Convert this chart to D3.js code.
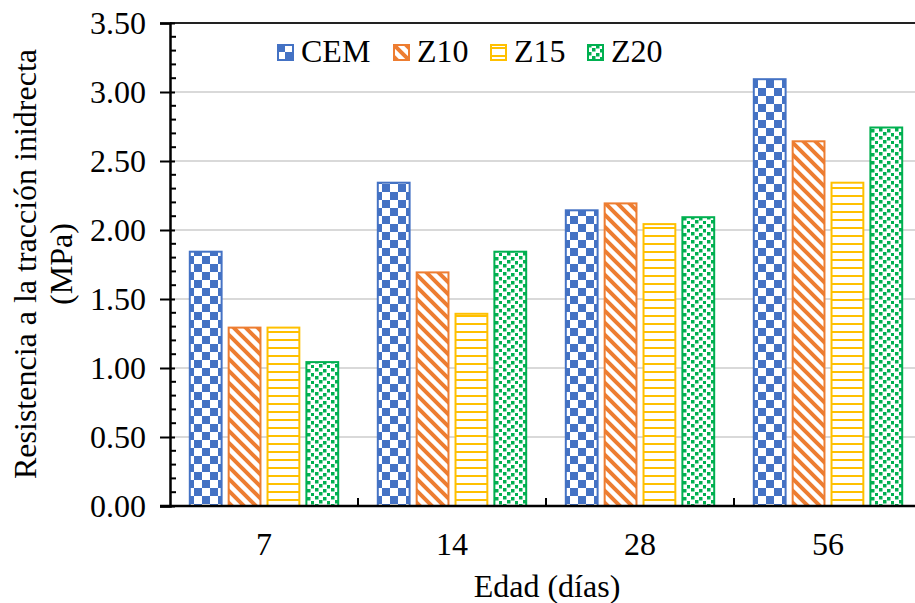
<!DOCTYPE html>
<html>
<head>
<meta charset="utf-8">
<script src="https://cdn.jsdelivr.net/npm/d3@7/dist/d3.min.js"></script>
<style>
  html, body { margin: 0; padding: 0; background: #fff; }
  svg { display: block; }
  text { font-family: "Liberation Serif", "Times New Roman", serif; fill: #000; }
</style>
</head>
<body>
<svg id="chart" width="915" height="603"></svg>
<script>
// Indirect tensile strength by age for each mix
const ages = ["7", "14", "28", "56"];
const seriesNames = ["CEM", "Z10", "Z15", "Z20"];
const cem = [1.85, 2.35, 2.15, 3.10];
const z10 = [1.30, 1.70, 2.20, 2.65];
const z15 = [1.30, 1.40, 2.05, 2.35];
const z20 = [1.05, 1.85, 2.10, 2.75];
const yTicks = [0, 0.5, 1.0, 1.5, 2.0, 2.5, 3.0, 3.5];

const seriesValues = [cem, z10, z15, z20];
const colors = ["#4472C4", "#ED7D31", "#FFC000", "#00B050"];

const svg = d3.select("#chart");
const margin = { left: 170, right: -7, top: 23, bottom: 97 };
const W = 915, H = 603;
const plotLeft = margin.left, plotRight = W - margin.right;
const plotTop = margin.top, plotBottom = H - margin.bottom;

const x0 = d3.scaleBand().domain(ages).range([plotLeft, plotRight]).paddingInner(0).paddingOuter(0);
const bw = x0.bandwidth();
const x1 = d3.scaleBand().domain(seriesNames).range([bw * 0.1, bw * 0.9]).paddingInner(0.13);
const y = d3.scaleLinear().domain([0, 3.5]).range([plotBottom, plotTop]);

// Fill patterns
const defs = svg.append("defs");
// checkerboard
const pCheck = defs.append("pattern").attr("id", "p-cem").attr("patternUnits", "userSpaceOnUse")
  .attr("width", 16).attr("height", 16);
pCheck.append("rect").attr("width", 16).attr("height", 16).attr("fill", "#fff");
pCheck.append("rect").attr("x", 0).attr("y", 0).attr("width", 8).attr("height", 8).attr("fill", colors[0]);
pCheck.append("rect").attr("x", 8).attr("y", 8).attr("width", 8).attr("height", 8).attr("fill", colors[0]);
// wide downward diagonal
const pDiag = defs.append("pattern").attr("id", "p-z10").attr("patternUnits", "userSpaceOnUse")
  .attr("width", 12).attr("height", 12);
pDiag.append("rect").attr("width", 12).attr("height", 12).attr("fill", "#fff");
pDiag.append("path").attr("d", "M-6,-6 L18,18 M-6,6 L6,18 M6,-6 L18,6")
  .attr("stroke", colors[1]).attr("stroke-width", 4);
// horizontal lines
const pHor = defs.append("pattern").attr("id", "p-z15").attr("patternUnits", "userSpaceOnUse")
  .attr("width", 8).attr("height", 8);
pHor.append("rect").attr("width", 8).attr("height", 8).attr("fill", "#fff");
pHor.append("rect").attr("x", 0).attr("y", 3).attr("width", 8).attr("height", 2).attr("fill", colors[2]);
// confetti
const pConf = defs.append("pattern").attr("id", "p-z20").attr("patternUnits", "userSpaceOnUse")
  .attr("width", 16).attr("height", 16);
pConf.append("rect").attr("width", 16).attr("height", 16).attr("fill", "#fff");
[[1, 0], [9, 1], [5, 4], [13, 5], [1, 8], [9, 9], [5, 12], [13, 13]].forEach(([cx, cy]) => {
  pConf.append("rect").attr("x", cx).attr("y", cy).attr("width", 3.5).attr("height", 3.5).attr("fill", colors[3]);
});
const fills = ["url(#p-cem)", "url(#p-z10)", "url(#p-z15)", "url(#p-z20)"];

// Gridlines
svg.append("g").selectAll("line").data(yTicks.filter(t => t > 0 && t < 3.5)).join("line")
  .attr("x1", plotLeft).attr("x2", plotRight)
  .attr("y1", d => y(d)).attr("y2", d => y(d))
  .attr("stroke", "#d9d9d9").attr("stroke-width", 2);

// Top border
svg.append("line").attr("x1", plotLeft).attr("x2", plotRight)
  .attr("y1", y(3.5)).attr("y2", y(3.5)).attr("stroke", "#222").attr("stroke-width", 2);

// Bars
const groups = svg.append("g").selectAll("g").data(ages).join("g")
  .attr("transform", d => `translate(${x0(d)},0)`);
groups.selectAll("rect").data((d, i) => seriesNames.map((s, k) => ({ s, k, v: seriesValues[k][i] })))
  .join("rect")
  .attr("x", d => x1(d.s) + 1)
  .attr("width", x1.bandwidth() - 2)
  .attr("y", d => y(d.v) + 1)
  .attr("height", d => y(0) - y(d.v) - 1)
  .attr("fill", d => fills[d.k])
  .attr("stroke", d => colors[d.k])
  .attr("stroke-width", 2);

// Y axis
const yAxis = d3.axisLeft(y).tickValues(yTicks).tickFormat(d3.format(".2f")).tickSize(10).tickPadding(14);
const gy = svg.append("g").attr("transform", `translate(${plotLeft},0)`).call(yAxis);
gy.select(".domain").attr("stroke", "#000").attr("stroke-width", 2.5);
gy.selectAll(".tick line").attr("stroke", "#000").attr("stroke-width", 2).attr("x2", -10).attr("x1", 5);
gy.selectAll(".tick text").style("font-size", "32px").style("font-family", "Liberation Serif");
// minor ticks
const minor = d3.range(0, 3.5001, 0.1).filter(v => Math.abs(v * 2 - Math.round(v * 2)) > 1e-6);
svg.append("g").selectAll("line").data(minor).join("line")
  .attr("x1", plotLeft).attr("x2", plotLeft + 6)
  .attr("y1", d => y(d)).attr("y2", d => y(d))
  .attr("stroke", "#000").attr("stroke-width", 2);

// X axis
svg.append("line").attr("x1", plotLeft - 10).attr("x2", plotRight)
  .attr("y1", plotBottom).attr("y2", plotBottom).attr("stroke", "#000").attr("stroke-width", 2.5);
svg.append("g").selectAll("line").data(ages.slice(1)).join("line")
  .attr("x1", d => x0(d)).attr("x2", d => x0(d))
  .attr("y1", plotBottom).attr("y2", plotBottom - 8)
  .attr("stroke", "#000").attr("stroke-width", 2);
svg.append("g").selectAll("text").data(ages).join("text")
  .attr("x", d => x0(d) + bw / 2).attr("y", 555)
  .attr("text-anchor", "middle").style("font-size", "32px").text(d => d);

// Axis titles
svg.append("text").attr("x", 547).attr("y", 597).attr("text-anchor", "middle")
  .style("font-size", "32px").text("Edad (días)");
const yt = svg.append("text").attr("transform", "translate(0,264) rotate(-90)")
  .attr("text-anchor", "middle").style("font-size", "32px");
yt.append("tspan").attr("x", 0).attr("y", 36).text("Resistencia a la tracción inidrecta");
yt.append("tspan").attr("x", 0).attr("y", 72).text("(MPa)");

// Legend
const legendX = [277, 393, 490, 587];
const lg = svg.append("g").selectAll("g").data(seriesNames).join("g")
  .attr("transform", (d, i) => `translate(${legendX[i]},44)`);
lg.append("rect").attr("x", 1).attr("y", 1).attr("width", 15).attr("height", 15)
  .attr("fill", (d, i) => fills[i]).attr("stroke", (d, i) => colors[i]).attr("stroke-width", 2);
lg.append("text").attr("x", 24).attr("y", 18).style("font-size", "32px").text(d => d);
</script>
</body>
</html>
